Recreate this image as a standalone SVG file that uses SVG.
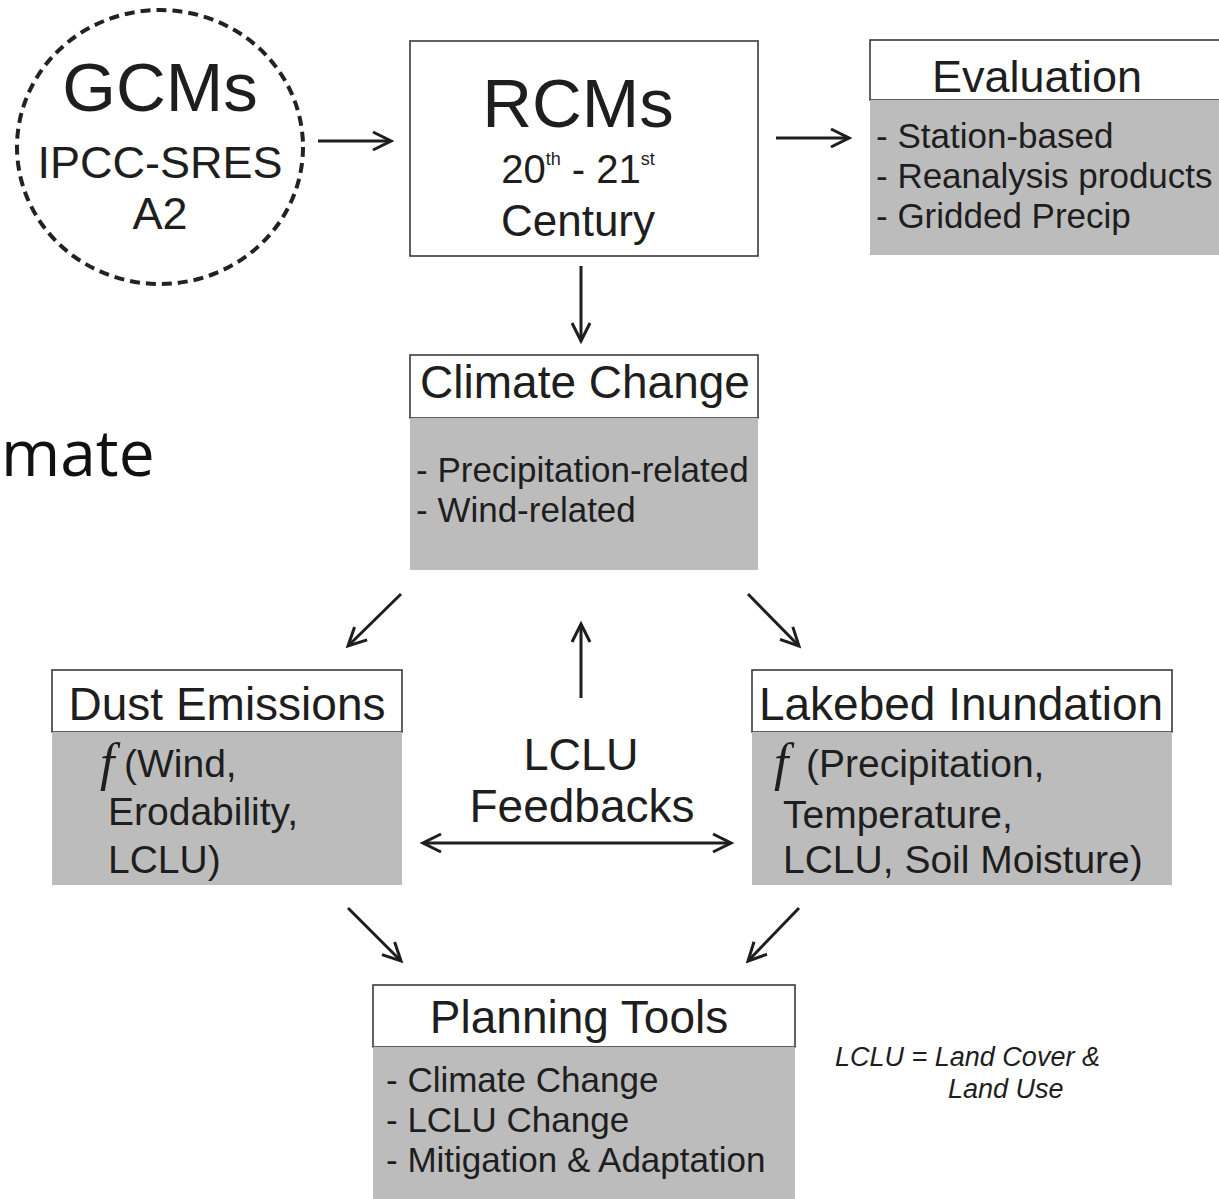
<svg xmlns="http://www.w3.org/2000/svg" width="1219" height="1199" viewBox="0 0 1219 1199">
<defs>
<style>
.t{font-family:"Liberation Sans",Arial,Helvetica,sans-serif;fill:#1e1e1e}
.hd{fill:#fff;stroke:#3a3a3a;stroke-width:1.6}
.gr{fill:#bcbcbc}
.ln{stroke:#1e1e1e;stroke-width:3;fill:none}
.f{font-family:"Liberation Serif","Times New Roman",serif;font-style:italic;fill:#1e1e1e}
</style>
<marker id="ah" markerUnits="userSpaceOnUse" markerWidth="26" markerHeight="26" viewBox="0 0 26 26" refX="23" refY="13" orient="auto-start-reverse">
<path d="M5,4 L23,13 L5,22" fill="none" stroke="#1e1e1e" stroke-width="3"/>
</marker>
</defs>
<rect width="1219" height="1199" fill="#fff"/>

<text class="t" x="1" y="476" style="font-family:'Open Sans','Noto Sans',sans-serif;fill:#111" font-size="64">mate</text>

<g id="gcms">
<ellipse cx="160" cy="147" rx="143" ry="137" fill="#fff" stroke="#222" stroke-width="4" stroke-dasharray="10,6"/>
<text class="t" x="160" y="111" text-anchor="middle" font-size="69">GCMs</text>
<text class="t" x="160" y="178" text-anchor="middle" font-size="45">IPCC-SRES</text>
<text class="t" x="160" y="229" text-anchor="middle" font-size="45">A2</text>
</g>

<g id="rcms">
<rect class="hd" x="410" y="41" width="348" height="215"/>
<text class="t" x="578" y="127" text-anchor="middle" font-size="69">RCMs</text>
<text class="t" x="578" y="183" text-anchor="middle" font-size="40">20<tspan font-size="18" dy="-18">th</tspan><tspan font-size="40" dy="18"> - 21</tspan><tspan font-size="18" dy="-18">st</tspan></text>
<text class="t" x="578" y="236" text-anchor="middle" font-size="44">Century</text>
</g>

<g id="evaluation">
<rect class="hd" x="870" y="40" width="360" height="60"/>
<rect class="gr" x="870" y="100" width="360" height="155"/>
<text class="t" x="1037" y="92" text-anchor="middle" font-size="45">Evaluation</text>
<text class="t" x="876" y="148" font-size="35">- Station-based</text>
<text class="t" x="876" y="188" font-size="35">- Reanalysis products</text>
<text class="t" x="876" y="228" font-size="35">- Gridded Precip</text>
</g>

<g id="climate-change">
<rect class="hd" x="410" y="355" width="348" height="63"/>
<rect class="gr" x="410" y="418" width="348" height="152"/>
<text class="t" x="585" y="398" text-anchor="middle" font-size="46">Climate Change</text>
<text class="t" x="416" y="482" font-size="35">- Precipitation-related</text>
<text class="t" x="416" y="522" font-size="35">- Wind-related</text>
</g>

<g id="dust-emissions">
<rect class="hd" x="52" y="670" width="350" height="62"/>
<rect class="gr" x="52" y="732" width="350" height="153"/>
<text class="t" x="227" y="720" text-anchor="middle" font-size="46">Dust Emissions</text>
<text class="f" x="100" y="780" font-size="52">f</text>
<text class="t" x="124" y="777" font-size="39">(Wind,</text>
<text class="t" x="108" y="825" font-size="39">Erodability,</text>
<text class="t" x="108" y="873" font-size="39">LCLU)</text>
</g>

<g id="lakebed-inundation">
<rect class="hd" x="752" y="670" width="420" height="62"/>
<rect class="gr" x="752" y="732" width="420" height="153"/>
<text class="t" x="961" y="720" text-anchor="middle" font-size="46">Lakebed Inundation</text>
<text class="f" x="774" y="780" font-size="52">f</text>
<text class="t" x="806" y="777" font-size="39">(Precipitation,</text>
<text class="t" x="783" y="828" font-size="39">Temperature,</text>
<text class="t" x="783" y="873" font-size="39">LCLU, Soil Moisture)</text>
</g>

<g id="lclu-feedbacks">
<text class="t" x="581" y="770" text-anchor="middle" font-size="45">LCLU</text>
<text class="t" x="582" y="822" text-anchor="middle" font-size="46">Feedbacks</text>
</g>

<g id="planning-tools">
<rect class="hd" x="373" y="985" width="422" height="62"/>
<rect class="gr" x="373" y="1047" width="422" height="160"/>
<text class="t" x="579" y="1033" text-anchor="middle" font-size="46">Planning Tools</text>
<text class="t" x="386" y="1092" font-size="35">- Climate Change</text>
<text class="t" x="386" y="1132" font-size="35">- LCLU Change</text>
<text class="t" x="386" y="1172" font-size="35">- Mitigation &amp; Adaptation</text>
</g>

<g id="legend">
<text class="t" x="835" y="1066" font-size="27" font-style="italic">LCLU = Land Cover &amp;</text>
<text class="t" x="948" y="1098" font-size="27" font-style="italic">Land Use</text>
</g>

<g id="connectors">
<line class="ln" x1="318" y1="141" x2="391" y2="141" marker-end="url(#ah)"/>
<line class="ln" x1="776" y1="138" x2="849" y2="138" marker-end="url(#ah)"/>
<line class="ln" x1="581" y1="266" x2="581" y2="341" marker-end="url(#ah)"/>
<line class="ln" x1="401" y1="594" x2="348" y2="646" marker-end="url(#ah)"/>
<line class="ln" x1="748" y1="594" x2="799" y2="646" marker-end="url(#ah)"/>
<line class="ln" x1="581" y1="698" x2="581" y2="624" marker-end="url(#ah)"/>
<line class="ln" x1="423" y1="843" x2="731" y2="843" marker-start="url(#ah)" marker-end="url(#ah)"/>
<line class="ln" x1="348" y1="908" x2="401" y2="961" marker-end="url(#ah)"/>
<line class="ln" x1="799" y1="908" x2="748" y2="961" marker-end="url(#ah)"/>
</g>
</svg>
